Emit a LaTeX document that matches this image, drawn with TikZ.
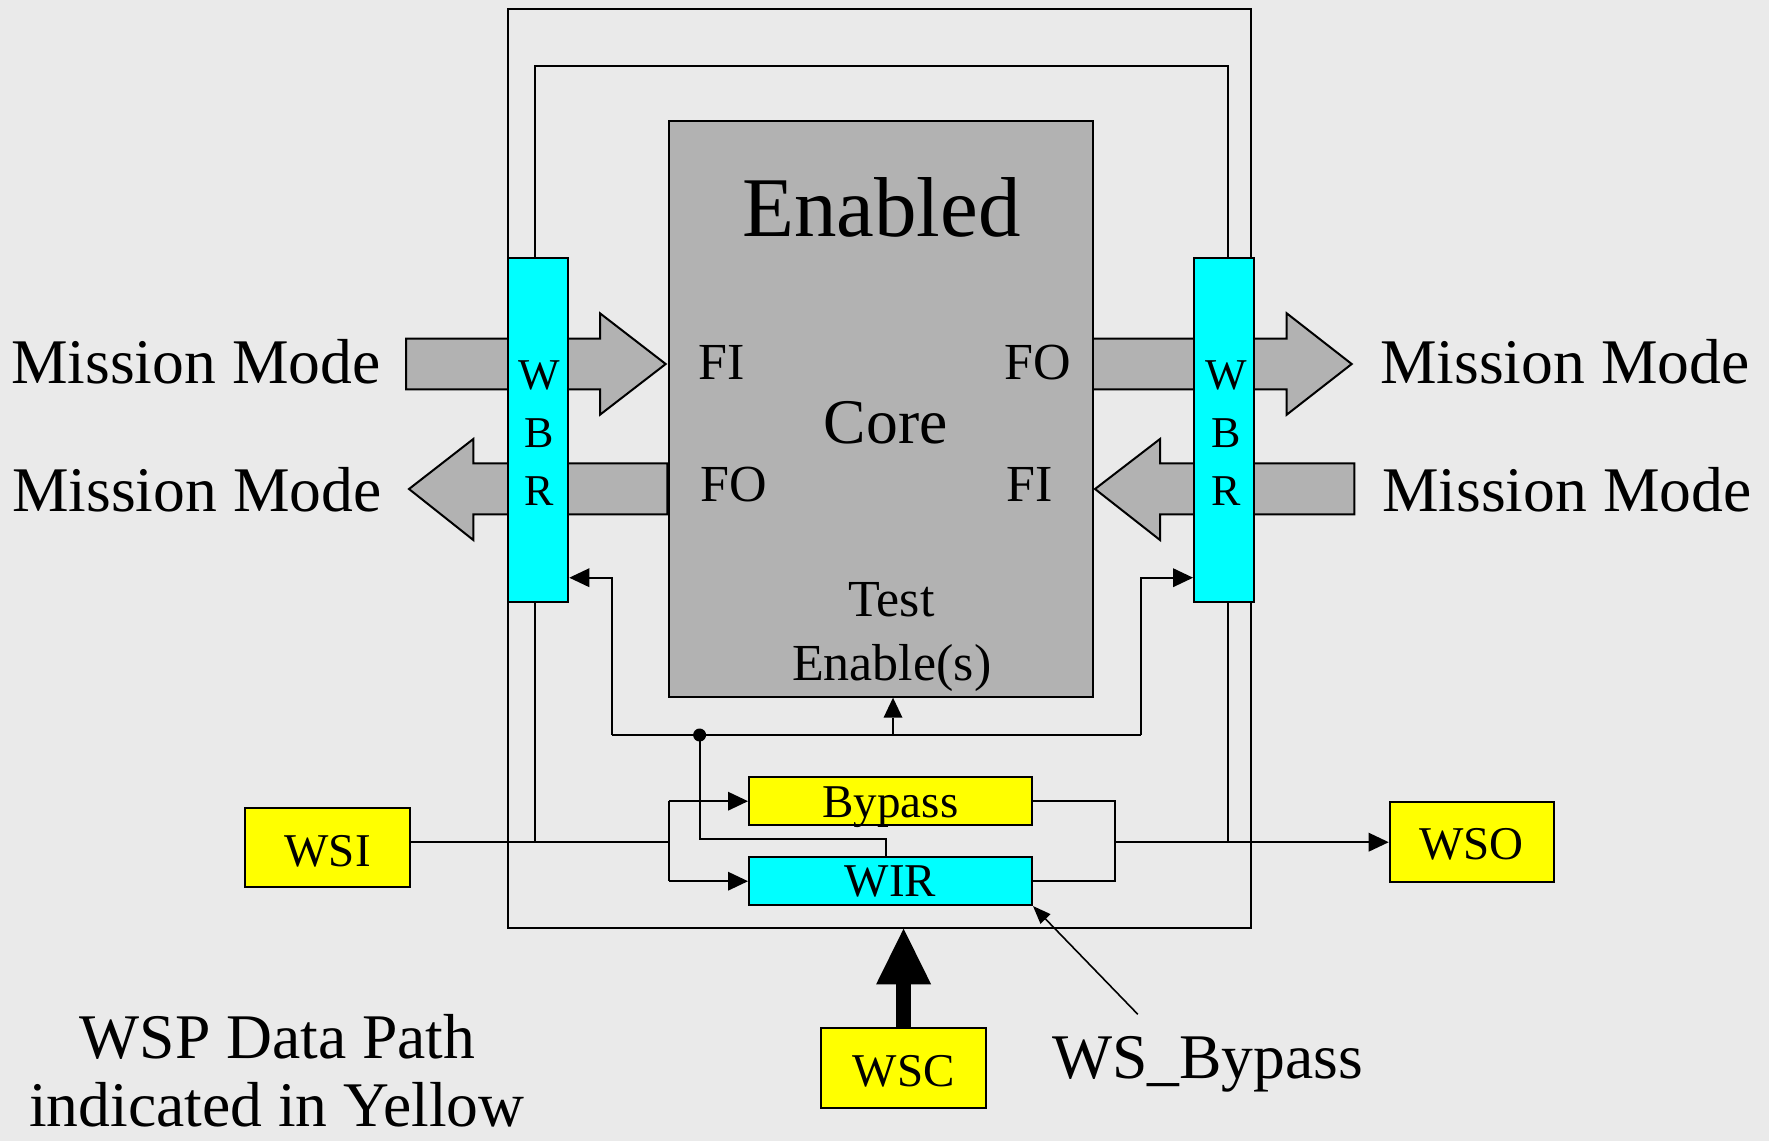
\documentclass[tikz,border=0pt]{standalone}
\usepackage{fontspec}
\setmainfont{Liberation Serif}
\usetikzlibrary{arrows.meta}
\definecolor{bgc}{HTML}{EAEAEA}
\definecolor{coregray}{HTML}{B2B2B2}
\definecolor{wcyan}{HTML}{00FFFF}
\definecolor{wyellow}{HTML}{FFFF00}
\tikzset{
  ln/.style={line width=2pt},
  tipped/.style={-{Triangle[length=20pt,width=19pt,line width=0pt]}},
  box/.style={draw, line width=2pt, inner sep=0pt, rectangle},
  bigtxt/.style={font=\fontsize{63.6}{76}\selectfont, inner sep=0pt},
  midtxt/.style={font=\fontsize{52}{63}\selectfont, inner sep=0pt},
  smalltxt/.style={font=\fontsize{47}{56}\selectfont},
  wbrtxt/.style={font=\fontsize{44}{57.8}\selectfont, align=center, inner sep=0pt},
  marrow/.style={fill=coregray, draw, line width=2pt, line join=miter},
}
\begin{document}
\begin{tikzpicture}[x=1pt,y=-1pt]
\fill[bgc] (0,0) rectangle (1769,1141);
\useasboundingbox (0,0) rectangle (1769,1141);

% outer frame and inner loop
\node[box, minimum width=742.5pt, minimum height=919.2pt] (frame) at (879.25,468.1) {};
\draw[ln] (535,841.5) -- (535,66) -- (1228,66) -- (1228,842.2);

% mission mode block arrows
\draw[marrow] (406,338.7) -- (600,338.7) -- (600,313.3) -- (665.7,364) -- (600,414.7) -- (600,389.3) -- (406,389.3) -- cycle;
\draw[marrow] (667.3,463.3) -- (473.3,463.3) -- (473.3,439) -- (409,489) -- (473.3,540) -- (473.3,514.3) -- (667.3,514.3) -- cycle;
\draw[marrow] (1092.5,338.7) -- (1286.7,338.7) -- (1286.7,313.3) -- (1351.7,364) -- (1286.7,414.7) -- (1286.7,389.3) -- (1092.5,389.3) -- cycle;
\draw[marrow] (1354.3,463.3) -- (1160,463.3) -- (1160,439) -- (1095,489) -- (1160,540) -- (1160,514.3) -- (1354.3,514.3) -- cycle;

% core
\node[box, fill=coregray, minimum width=423.7pt, minimum height=575.7pt] (core) at (880.65,408.85) {};

% WBRs
\node[box, fill=wcyan, minimum width=60.6pt, minimum height=343.4pt] (wbrl) at (538,430) {};
\node[box, fill=wcyan, minimum width=60.3pt, minimum height=343.4pt] (wbrr) at (1224.2,430) {};
\node[wbrtxt] (wbrlt) at (538.8,433.3) {W\\B\\R};
\node[wbrtxt] (wbrrt) at (1225.8,433.3) {W\\B\\R};

% yellow / cyan boxes
\node[box, fill=wyellow, minimum width=283pt, minimum height=48.3pt, smalltxt, text height=32.6pt, text depth=0pt] (bypass) at (890.5,801.2) {Bypass};
\node[box, fill=wcyan, minimum width=283pt, minimum height=47.7pt, smalltxt, text height=31pt, text depth=0pt] (wir) at (890.5,881.2) {WIR};
\node[box, fill=wyellow, minimum width=164.6pt, minimum height=79pt, smalltxt, text height=37.6pt, text depth=0pt] (wsi) at (327.6,847.2) {WSI};
\node[box, fill=wyellow, minimum width=163.8pt, minimum height=79.4pt, smalltxt, text height=34.6pt, text depth=0pt] (wso) at (1471.6,842) {WSO};
\node[box, fill=wyellow, minimum width=164.6pt, minimum height=80pt, smalltxt, text height=38pt, text depth=0pt] (wsc) at (903.6,1067.7) {WSC};

% test enable control lines
\coordinate (cl) at (612,735);
\coordinate (cr) at (1141,735);
\coordinate (te) at (893,735);
\coordinate (dot) at (699.6,735);
\coordinate (wj) at (885.8,839);
\draw[ln] (cl) -- (cr);
\draw[ln, tipped] (te) -- (te |- core.south);
\draw[ln, tipped] (cl) |- ([yshift=25pt]wbrl.south east);
\draw[ln, tipped] (cr) |- ([yshift=25pt]wbrr.south west);
\fill (dot) circle (6.5pt);
\draw[ln] (dot) |- (wj) -- (wj |- wir.north);

% WSI path
\coordinate (fork) at (668.8,841.5);
\draw[ln] (wsi.east |- fork) -- (fork);
\draw[ln, tipped] (fork |- bypass.west) -- (bypass.west);
\draw[ln] (fork |- bypass.west) -- (fork |- wir.west);
\draw[ln, tipped] (fork |- wir.west) -- (wir.west);

% merge to WSO
\coordinate (mg) at (1114.5,842.2);
\draw[ln] (bypass.east) -| (mg) |- (wir.east);
\draw[ln, tipped] (mg) -- (mg -| wso.west);

% WSC and WS_Bypass
\draw[line width=15.3pt, -{Triangle[length=55.6pt,width=55pt,line width=0pt]}] (wsc.north) -- (wsc.north |- frame.south);
\coordinate (wsbtail) at (1137.8,1014.3);
\draw[line width=1.6pt, -{Triangle[length=18pt,width=14pt,line width=0pt]}] (wsbtail) -- (wir.south east);

% texts
\node[bigtxt, anchor=base west] (mm1) at (11,383.3) {Mission Mode};
\node[bigtxt, anchor=base west] (mm2) at (12,511.7) {Mission Mode};
\node[bigtxt, anchor=base west] (mm3) at (1380,383.3) {Mission Mode};
\node[bigtxt, anchor=base west] (mm4) at (1382,511.7) {Mission Mode};
\node[font=\fontsize{85}{100}\selectfont, inner sep=0pt, anchor=base] (enab) at (881.5,236.7) {Enabled};
\node[bigtxt, anchor=base] (coret) at (885.8,443.3) {Core};
\node[midtxt, anchor=base west] (fi1) at (698,379) {FI};
\node[midtxt, anchor=base west] (fo1) at (1004,379) {FO};
\node[midtxt, anchor=base west] (fo2) at (700.7,501.7) {FO};
\node[midtxt, anchor=base west] (fi2) at (1006,501.7) {FI};
\node[midtxt, anchor=base] (test) at (891.5,616.7) {Test};
\node[midtxt, anchor=base] (tens) at (891.7,680) {Enable(s)};
\node[bigtxt, anchor=base] (wsp1) at (277.6,1058) {WSP Data Path};
\node[bigtxt, anchor=base] (wsp2) at (276.7,1126) {indicated in Yellow};
\node[bigtxt, anchor=base west] (wsbt) at (1052,1078.3) {WS\_Bypass};
\end{tikzpicture}
\end{document}
